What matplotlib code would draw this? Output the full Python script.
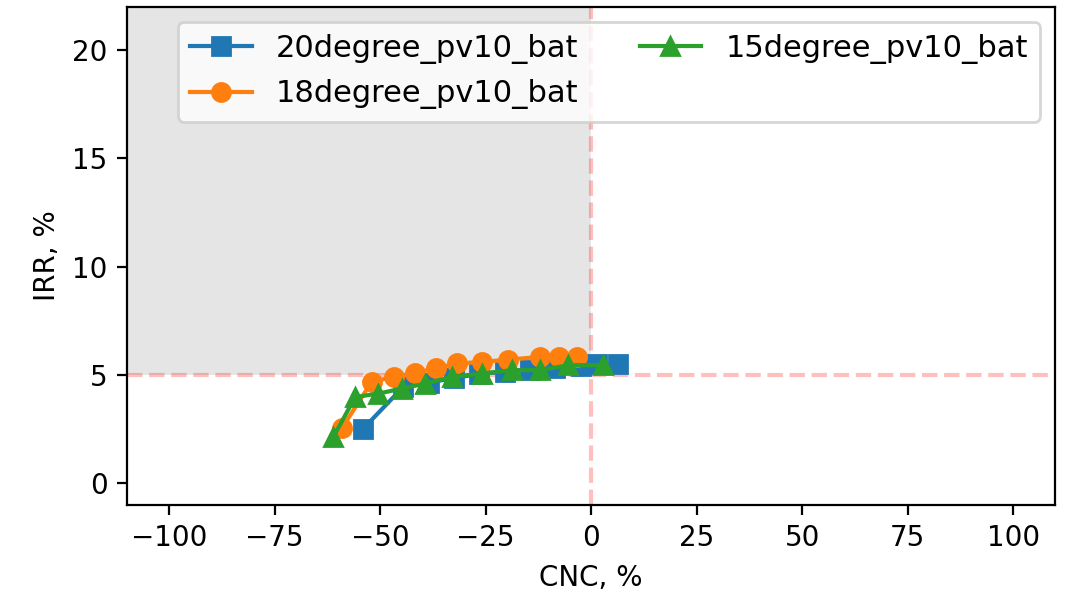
import matplotlib
matplotlib.use("Agg")
import matplotlib.pyplot as plt

# CNC (%) vs IRR (%) for each tilt case
cnc_20 = [-54.0, -44.5, -38.5, -32.5, -26.5, -20.5, -14.5, -8.5, -2.5, 1.5, 6.4]
irr_20 = [2.52, 4.45, 4.65, 4.85, 5.05, 5.15, 5.25, 5.32, 5.42, 5.5, 5.52]

cnc_18 = [-59.1, -52.0, -46.8, -41.7, -36.7, -31.8, -25.9, -19.6, -12.1, -7.7, -3.4]
irr_18 = [2.53, 4.68, 4.91, 5.09, 5.32, 5.53, 5.60, 5.71, 5.83, 5.83, 5.83]

cnc_15 = [-61.1, -55.9, -50.4, -44.9, -39.3, -33.0, -25.9, -18.8, -12.1, -5.4, 2.9]
irr_15 = [2.13, 3.98, 4.14, 4.37, 4.60, 4.91, 5.06, 5.22, 5.22, 5.45, 5.45]

x_min, x_max = -110, 110
y_min, y_max = -1, 22
irr_target = 5

fig, ax = plt.subplots(figsize=(5.33, 2.995), dpi=200)
fig.subplots_adjust(left=0.119, right=0.99, top=0.989, bottom=0.157)

# shaded quadrant: negative CNC, IRR above target
ax.fill([x_min, 0, 0, x_min], [irr_target, irr_target, y_max, y_max],
        color='grey', alpha=0.2, linewidth=0)
ax.axhline(irr_target, color='red', linestyle='--', alpha=0.25)
ax.axvline(0, color='red', linestyle='--', alpha=0.25)

ax.plot(cnc_20, irr_20, marker='s', markersize=6.5, color='tab:blue', label='20degree_pv10_bat')
ax.plot(cnc_18, irr_18, marker='o', markersize=6.5, color='tab:orange', label='18degree_pv10_bat')
ax.plot(cnc_15, irr_15, marker='^', markersize=6.5, color='tab:green', label='15degree_pv10_bat')

ax.set_xlim(x_min, x_max)
ax.set_ylim(y_min, y_max)
ax.set_xticks([-100, -75, -50, -25, 0, 25, 50, 75, 100])
ax.set_yticks([0, 5, 10, 15, 20])
ax.set_xlabel('CNC, %')
ax.set_ylabel('IRR, %')
ax.legend(ncol=2, loc='upper right', fontsize=11)

fig.savefig('out.png', dpi=200)
